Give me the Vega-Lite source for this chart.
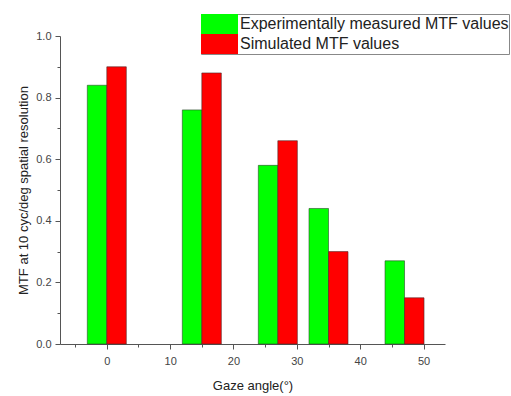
{
  "$schema": "https://vega.github.io/schema/vega-lite/v6.json",
  "autosize": "none",
  "width": 385,
  "height": 308,
  "padding": {"left": 60, "top": 36, "right": 66, "bottom": 52},
  "background": "white",
  "config": {
    "view": {"stroke": null},
    "font": "Liberation Sans",
    "axis": {"grid": false, "domainColor": "#555", "tickColor": "#555", "labelColor": "#444", "titleColor": "#222", "labelFont": "Liberation Sans", "titleFont": "Liberation Sans", "titleFontWeight": "normal", "labelFontSize": 11, "titleFontSize": 13}
  },
  "data": {
    "values": [
      {"angle": 0, "series": "Experimentally measured MTF values", "mtf": 0.84},
      {"angle": 0, "series": "Simulated MTF values", "mtf": 0.90},
      {"angle": 15, "series": "Experimentally measured MTF values", "mtf": 0.76},
      {"angle": 15, "series": "Simulated MTF values", "mtf": 0.88},
      {"angle": 27, "series": "Experimentally measured MTF values", "mtf": 0.58},
      {"angle": 27, "series": "Simulated MTF values", "mtf": 0.66},
      {"angle": 35, "series": "Experimentally measured MTF values", "mtf": 0.44},
      {"angle": 35, "series": "Simulated MTF values", "mtf": 0.30},
      {"angle": 47, "series": "Experimentally measured MTF values", "mtf": 0.27},
      {"angle": 47, "series": "Simulated MTF values", "mtf": 0.15}
    ]
  },
  "resolve": {"axis": {"x": "independent", "y": "independent"}},
  "layer": [
    {
      "transform": [{"filter": "datum.series === 'Experimentally measured MTF values'"}],
      "mark": {"type": "bar", "width": 19.5, "xOffset": -9.75, "stroke": "#2a4a2a", "strokeWidth": 0.6},
      "encoding": {
        "x": {"field": "angle", "type": "quantitative", "scale": {"domain": [-6.6, 52.6], "nice": false, "zero": false},
          "axis": {"orient": "bottom", "values": [0, 10, 20, 30, 40, 50], "title": "Gaze angle(°)", "tickSize": 5, "labelPadding": 6, "titlePadding": 13}},
        "y": {"field": "mtf", "type": "quantitative", "scale": {"domain": [0, 1], "nice": false},
          "axis": {"orient": "left", "values": [0, 0.2, 0.4, 0.6, 0.8, 1.0], "format": ".1f", "title": "MTF at 10 cyc/deg spatial resolution", "tickSize": 5, "labelPadding": 4, "titlePadding": 5}},
        "color": {"field": "series", "type": "nominal",
          "scale": {"domain": ["Experimentally measured MTF values", "Simulated MTF values"], "range": ["#00ff00", "#ff0000"]},
          "legend": {"title": null, "orient": "none", "legendX": 141, "legendY": -22, "symbolType": "M-1,-1L2.7,-1L2.7,1L-1,1Z", "symbolSize": 400, "symbolStrokeWidth": 0, "symbolOpacity": 1, "labelOffset": 19, "labelFontSize": 16, "labelColor": "#222", "labelFont": "Liberation Sans", "rowPadding": 0, "padding": 0, "strokeColor": "#888", "labelLimit": 400}}
      }
    },
    {
      "transform": [{"filter": "datum.series === 'Simulated MTF values'"}],
      "mark": {"type": "bar", "width": 19.5, "xOffset": 9.75, "stroke": "#4a2a2a", "strokeWidth": 0.6},
      "encoding": {
        "x": {"field": "angle", "type": "quantitative", "axis": null},
        "y": {"field": "mtf", "type": "quantitative", "axis": null},
        "color": {"field": "series", "type": "nominal"}
      }
    },
    {
      "mark": {"type": "point", "opacity": 0},
      "encoding": {
        "x": {"field": "angle", "type": "quantitative",
          "axis": {"orient": "bottom", "values": [-5, 5, 15, 25, 35, 45], "labels": false, "domain": false, "tickSize": 3, "title": null}},
        "y": {"field": "mtf", "type": "quantitative",
          "axis": {"orient": "left", "values": [0.1, 0.3, 0.5, 0.7, 0.9], "labels": false, "domain": false, "tickSize": 3, "title": null}}
      }
    }
  ]
}
